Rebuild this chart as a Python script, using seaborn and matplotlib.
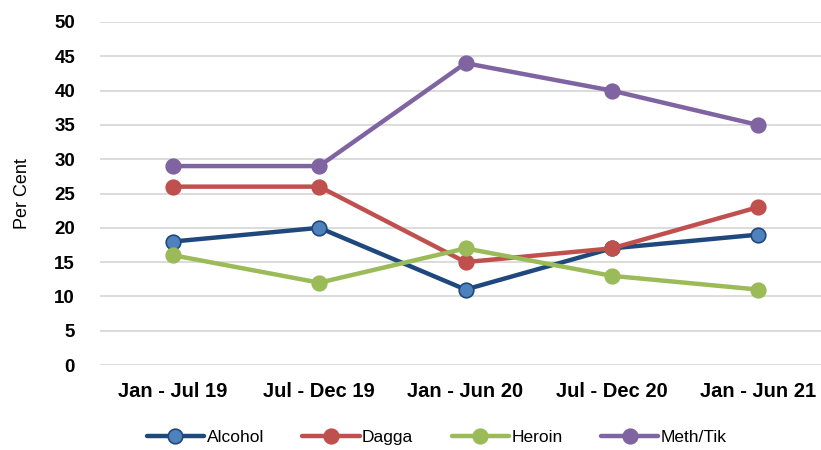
import matplotlib
matplotlib.use("Agg")
import matplotlib.pyplot as plt
import seaborn as sns
import pandas as pd
from matplotlib.lines import Line2D

categories = ["Jan - Jul 19", "Jul - Dec 19", "Jan - Jun 20", "Jul - Dec 20", "Jan - Jun 21"]
alcohol = [18, 20, 11, 17, 19]
dagga = [26, 26, 15, 17, 23]
heroin = [16, 12, 17, 13, 11]
meth = [29, 29, 44, 40, 35]
series_names = ["Alcohol", "Dagga", "Heroin", "Meth/Tik"]
line_colors = ["#1F497D", "#C0504D", "#9BBB59", "#8064A2"]
face_colors = ["#4F81BD", "#C0504D", "#9BBB59", "#8064A2"]
yticks = [0, 5, 10, 15, 20, 25, 30, 35, 40, 45, 50]

rows = []
for name, vals in zip(series_names, [alcohol, dagga, heroin, meth]):
    for i, v in enumerate(vals):
        rows.append({"x": i, "value": v, "series": name})
df = pd.DataFrame(rows)

sns.set_theme(style="white")
plt.rcParams["font.family"] = ["Liberation Sans", "DejaVu Sans"]
plt.rcParams["text.color"] = "black"
plt.rcParams["axes.labelcolor"] = "black"
plt.rcParams["xtick.color"] = "black"
plt.rcParams["ytick.color"] = "black"

fig = plt.figure(figsize=(8.21, 4.5), dpi=100)
ax = fig.add_axes([100/821, 1-365/450, 1-100/821, (365-22)/450])

sns.lineplot(data=df, x="x", y="value", hue="series", hue_order=series_names,
             palette=line_colors, ax=ax, legend=False, linewidth=3.2,
             marker="o", markersize=10.5, zorder=3)

for line, lc, fc in zip(ax.lines, line_colors, face_colors):
    line.set_markerfacecolor(fc)
    line.set_markeredgecolor(lc)
    line.set_markeredgewidth(1.2)
    line.set_solid_capstyle("round")

ax.set_xlim(-0.5, 4.5 - 10/146)
ax.set_ylim(0, 50)
ax.set_yticks(yticks)
ax.set_yticklabels([str(t) for t in yticks], fontsize=13.5, fontweight="bold")
ax.set_xticks(range(len(categories)))
ax.set_xticklabels(categories, fontsize=14.5, fontweight="bold")
ax.tick_params(axis="y", length=0, pad=18)
ax.tick_params(axis="x", length=0, pad=12)
ax.yaxis.grid(True, color="#D9D9D9", linewidth=1.3)
ax.xaxis.grid(False)
ax.set_axisbelow(True)
for s in ax.spines.values():
    s.set_visible(False)
ax.set_xlabel("")
ax.set_ylabel("Per Cent", fontsize=13, labelpad=17)

handles = [Line2D([0], [0], color=lc, lw=3.2, marker="o", markersize=10.5,
                  markerfacecolor=fc, markeredgecolor=lc, markeredgewidth=1.2)
           for lc, fc in zip(line_colors, face_colors)]
fig.legend(handles, series_names, loc="center", bbox_to_anchor=(0.532, 1-437/450),
           ncol=4, frameon=False, fontsize=12.5, handlelength=3.3,
           handletextpad=0.15, columnspacing=2.2)

fig.savefig("out.png", dpi=100)
